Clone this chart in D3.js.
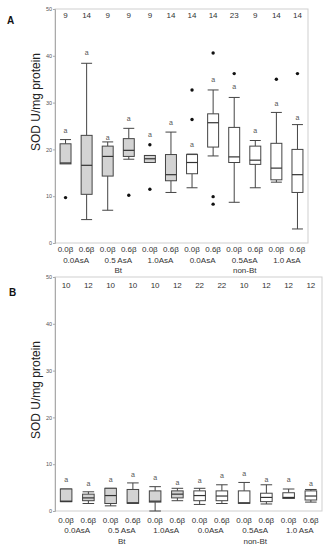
<!DOCTYPE html>
<html>
<head>
<meta charset="utf-8">
<script src="https://cdn.jsdelivr.net/npm/d3@7"></script>
<style>
  body { margin: 0; background: #fff; }
  svg { display: block; font-family: "Liberation Sans", Arial, sans-serif; }
</style>
</head>
<body>
<svg width="328" height="550"></svg>
<script>
// shared labels
const betaLabels = ["0.0β", "0.6β"];
const groupLabels = ["0.0AsA", "0.5 AsA", "1.0AsA", "0.0AsA", "0.5AsA", "1.0 AsA"];
const cultivars = ["Bt", "non-Bt"];
const yTicks = [0, 10, 20, 30, 40, 50];

// panel A
const countsA  = [9, 14, 9, 9, 9, 14, 14, 14, 23, 9, 14, 14];
const lowA     = [17.0, 5.0, 7.0, 17.9, 17.2, 10.8, 11.8, 18.6, 8.7, 11.8, 13.0, 3.0];
const q1A      = [16.9, 10.4, 14.3, 18.5, 17.2, 13.3, 14.8, 20.5, 17.2, 16.8, 13.5, 10.8];
const medianA  = [17.1, 16.6, 18.5, 19.8, 18.0, 14.6, 17.2, 25.7, 18.4, 17.7, 16.0, 14.6];
const q3A      = [21.2, 23.0, 20.7, 22.3, 18.7, 18.9, 18.9, 27.6, 24.7, 20.7, 21.3, 20.0];
const highA    = [22.1, 38.4, 21.6, 24.5, 18.7, 23.7, 19.0, 32.7, 31.1, 21.9, 27.9, 25.3];
const outliersA = [[9.7], [], [], [10.2], [21.0, 11.5], [], [26.4, 32.7], [40.6, 9.9, 8.3], [36.2], [], [35.0], [36.2]];
const lettersA = ["a", "a", "a", "a", "a", "a", "a", "a", "a", "a", "a", "a"];
const letterAtA = [23.8, 40.6, 22.4, 26.4, 23.0, 25.7, 20.9, 34.7, 33.4, 24.0, 29.6, 26.6];

// panel B
const countsB  = [10, 12, 10, 10, 10, 12, 22, 22, 10, 12, 12, 12];
const lowB     = [2.0, 1.6, 1.1, 1.65, 0.0, 2.2, 1.4, 1.6, 1.65, 1.5, 2.7, 1.9];
const q1B      = [2.0, 2.2, 1.6, 1.65, 1.9, 2.8, 2.2, 2.2, 1.65, 2.0, 2.7, 2.35];
const medianB  = [2.1, 2.8, 3.3, 1.75, 2.1, 3.6, 3.3, 3.2, 1.75, 2.9, 2.9, 3.2];
const q3B      = [4.7, 3.6, 4.85, 4.6, 4.3, 4.3, 4.3, 4.3, 4.3, 3.8, 3.9, 4.3];
const highB    = [4.7, 4.1, 4.85, 6.0, 5.2, 4.85, 4.85, 5.6, 6.1, 5.6, 4.7, 4.6];
const outliersB = [[], [], [], [], [], [], [], [], [], [], [], []];
const lettersB = ["a", "a", "a", "a", "a", "a", "a", "a", "a", "a", "a", "a"];
const letterAtB = [6.6, 5.8, 6.6, 7.7, 7.0, 5.9, 6.4, 7.5, 7.9, 6.6, 6.6, 5.8];

const svg = d3.select("svg");

function makeBoxes(counts, low, q1, med, q3, high, outliers, letters, letterAt) {
  return counts.map((n, i) => ({
    i: i, n: n, low: low[i], q1: q1[i], med: med[i], q3: q3[i], high: high[i],
    outliers: outliers[i], letter: letters[i], letterAt: letterAt[i]
  }));
}

function drawPanel(cfg, boxes) {
  const g = svg.append("g");

  const x = d3.scaleBand()
    .domain(d3.range(boxes.length))
    .range([cfg.left, cfg.right]);

  const y = d3.scaleLinear()
    .domain([0, 50])
    .range([cfg.bottom, cfg.top]);

  const bw = x.bandwidth() * 0.52;
  const cx = i => x(i) + x.bandwidth() / 2;

  // frame
  g.append("rect")
    .attr("x", cfg.left).attr("y", cfg.top)
    .attr("width", cfg.right - cfg.left).attr("height", cfg.bottom - cfg.top)
    .attr("fill", "none").attr("stroke", "#cfcfcf");

  // y axis
  const axis = g.append("g")
    .attr("transform", `translate(${cfg.left},0)`)
    .call(d3.axisLeft(y).tickValues(yTicks).tickSize(2).tickPadding(1));
  axis.select(".domain").attr("stroke", "#aaa");
  axis.selectAll(".tick line").attr("stroke", "#aaa");
  axis.selectAll("text").attr("font-size", 5.5).attr("fill", "#555");

  // axis title
  g.append("text")
    .attr("transform", `translate(${cfg.titleX},${cfg.titleY}) rotate(-90)`)
    .attr("text-anchor", "middle")
    .attr("dominant-baseline", "middle")
    .attr("font-size", 12)
    .attr("fill", "#222")
    .text("SOD U/mg protein");

  // panel letter
  g.append("text")
    .attr("x", cfg.letterX).attr("y", cfg.letterY)
    .attr("font-size", 10).attr("font-weight", "bold")
    .attr("fill", "#111")
    .text(cfg.name);

  // sample sizes
  g.selectAll("text.count")
    .data(boxes)
    .enter().append("text")
    .attr("class", "count")
    .attr("x", d => cx(d.i))
    .attr("y", cfg.top + cfg.countDy)
    .attr("text-anchor", "middle")
    .attr("font-size", 8)
    .attr("fill", "#333")
    .text(d => d.n);

  const box = g.selectAll("g.box")
    .data(boxes)
    .enter().append("g")
    .attr("class", "box");

  // upper and lower whiskers
  box.append("line")
    .attr("x1", d => cx(d.i)).attr("x2", d => cx(d.i))
    .attr("y1", d => y(d.q3)).attr("y2", d => y(d.high))
    .attr("stroke", "#444");
  box.append("line")
    .attr("x1", d => cx(d.i)).attr("x2", d => cx(d.i))
    .attr("y1", d => y(d.q1)).attr("y2", d => y(d.low))
    .attr("stroke", "#444");
  box.append("line")
    .attr("x1", d => cx(d.i) - bw / 2).attr("x2", d => cx(d.i) + bw / 2)
    .attr("y1", d => y(d.high)).attr("y2", d => y(d.high))
    .attr("stroke", "#444");
  box.append("line")
    .attr("x1", d => cx(d.i) - bw / 2).attr("x2", d => cx(d.i) + bw / 2)
    .attr("y1", d => y(d.low)).attr("y2", d => y(d.low))
    .attr("stroke", "#444");

  // the box itself, grey for Bt and white for non-Bt
  box.append("rect")
    .attr("x", d => cx(d.i) - bw / 2)
    .attr("y", d => y(d.q3))
    .attr("width", bw)
    .attr("height", d => Math.max(1, y(d.q1) - y(d.q3)))
    .attr("fill", d => d.i < 6 ? "#d3d3d3" : "#fff")
    .attr("stroke", "#444");

  // median
  box.append("line")
    .attr("x1", d => cx(d.i) - bw / 2).attr("x2", d => cx(d.i) + bw / 2)
    .attr("y1", d => y(d.med)).attr("y2", d => y(d.med))
    .attr("stroke", "#333").attr("stroke-width", 1.2);

  // outliers
  box.selectAll("circle")
    .data(d => d.outliers.map(v => ({i: d.i, v: v})))
    .enter().append("circle")
    .attr("cx", d => cx(d.i))
    .attr("cy", d => y(d.v))
    .attr("r", 1.7)
    .attr("fill", "#111");

  // significance letters
  box.append("text")
    .attr("x", d => cx(d.i))
    .attr("y", d => y(d.letterAt))
    .attr("text-anchor", "middle")
    .attr("dominant-baseline", "middle")
    .attr("font-size", 7)
    .attr("fill", "#555")
    .text(d => d.letter);

  // x labels: beta level, AsA group, cultivar
  g.selectAll("text.beta")
    .data(boxes)
    .enter().append("text")
    .attr("class", "beta")
    .attr("x", d => cx(d.i))
    .attr("y", cfg.bottom + cfg.row1)
    .attr("text-anchor", "middle")
    .attr("font-size", 8)
    .attr("fill", "#333")
    .text(d => betaLabels[d.i % 2]);

  g.selectAll("text.group")
    .data(groupLabels)
    .enter().append("text")
    .attr("class", "group")
    .attr("x", (d, j) => (cx(2 * j) + cx(2 * j + 1)) / 2)
    .attr("y", cfg.bottom + cfg.row2)
    .attr("text-anchor", "middle")
    .attr("font-size", 8)
    .attr("fill", "#333")
    .text(d => d);

  g.selectAll("text.cultivar")
    .data(cultivars)
    .enter().append("text")
    .attr("class", "cultivar")
    .attr("x", (d, j) => (cx(6 * j + 2) + cx(6 * j + 3)) / 2)
    .attr("y", cfg.bottom + cfg.row3)
    .attr("text-anchor", "middle")
    .attr("font-size", 8)
    .attr("fill", "#333")
    .text(d => d);
}

drawPanel(
  {name: "A", left: 55, right: 308, top: 9, bottom: 243, titleX: 37, titleY: 102,
   letterX: 7, letterY: 24, countDy: 9, row1: 9, row2: 20, row3: 30},
  makeBoxes(countsA, lowA, q1A, medianA, q3A, highA, outliersA, lettersA, letterAtA)
);

drawPanel(
  {name: "B", left: 55, right: 322, top: 277, bottom: 511, titleX: 37, titleY: 390,
   letterX: 9, letterY: 296, countDy: 11, row1: 12, row2: 22, row3: 33},
  makeBoxes(countsB, lowB, q1B, medianB, q3B, highB, outliersB, lettersB, letterAtB)
);
</script>
</body>
</html>
